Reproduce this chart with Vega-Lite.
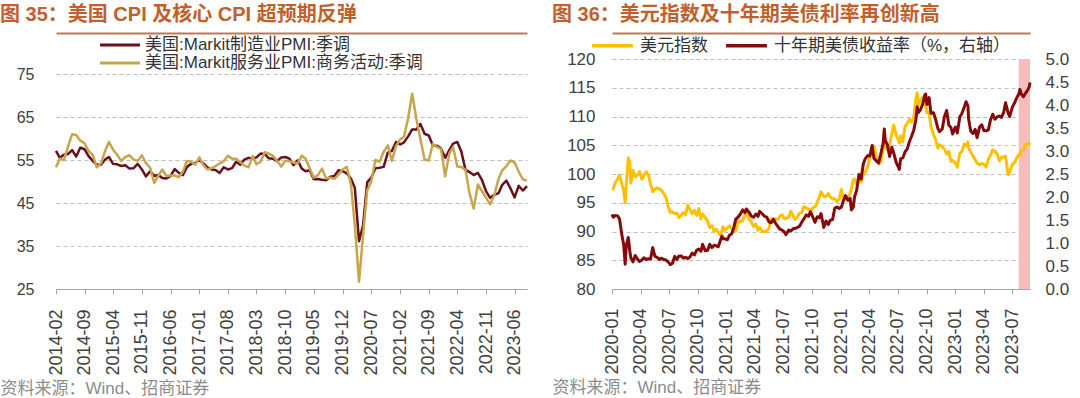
{
  "$schema": "https://vega.github.io/schema/vega-lite/v6.json",
  "padding": {"top": 5, "left": 0, "right": 0, "bottom": 0},
  "background": "white",
  "spacing": 23,
  "config": {
    "font": "Liberation Sans, Noto Sans CJK SC, sans-serif",
    "view": {"stroke": null},
    "axis": {"labelColor": "#404040", "labelFont": "Liberation Sans, Noto Sans CJK SC, sans-serif", "titleFont": "Liberation Sans, Noto Sans CJK SC, sans-serif"},
    "legend": {"labelFont": "Liberation Sans, Noto Sans CJK SC, sans-serif", "labelLimit": 500, "labelColor": "#333333"},
    "title": {"font": "Liberation Sans, Noto Sans CJK SC, sans-serif"}
  },
  "resolve": {"scale": {"color": "independent"}, "legend": {"color": "independent"}},
  "hconcat": [
    {
      "width": 471,
      "height": 230,
      "title": {"text": "图 35：美国 CPI 及核心 CPI 超预期反弹", "anchor": "start", "frame": "bounds", "offset": 8, "fontSize": 20, "fontWeight": "bold", "color": "#C0612B"},
      "data": {"values": [
        {"t":"2014-02-01","mfg":57.1,"svc":53.3},{"t":"2014-03-01","mfg":55.5,"svc":55.3},{"t":"2014-04-01","mfg":56.2,"svc":55.0},{"t":"2014-05-01","mfg":56.4,"svc":58.1},{"t":"2014-06-01","mfg":57.3,"svc":61.0},{"t":"2014-07-01","mfg":55.8,"svc":60.8},{"t":"2014-08-01","mfg":57.9,"svc":59.5},{"t":"2014-09-01","mfg":57.5,"svc":58.9},{"t":"2014-10-01","mfg":55.9,"svc":57.1},{"t":"2014-11-01","mfg":54.8,"svc":56.2},{"t":"2014-12-01","mfg":53.9,"svc":53.3},
        {"t":"2015-01-01","mfg":53.9,"svc":54.2},{"t":"2015-02-01","mfg":55.1,"svc":57.1},{"t":"2015-03-01","mfg":55.7,"svc":59.2},{"t":"2015-04-01","mfg":54.1,"svc":57.4},{"t":"2015-05-01","mfg":54.0,"svc":56.2},{"t":"2015-06-01","mfg":53.6,"svc":54.8},{"t":"2015-07-01","mfg":53.8,"svc":55.7},{"t":"2015-08-01","mfg":53.0,"svc":56.1},{"t":"2015-09-01","mfg":53.1,"svc":55.1},{"t":"2015-10-01","mfg":54.1,"svc":54.8},{"t":"2015-11-01","mfg":52.8,"svc":56.1},{"t":"2015-12-01","mfg":51.2,"svc":54.3},
        {"t":"2016-01-01","mfg":52.4,"svc":53.2},{"t":"2016-02-01","mfg":51.3,"svc":49.7},{"t":"2016-03-01","mfg":51.5,"svc":51.3},{"t":"2016-04-01","mfg":50.8,"svc":52.8},{"t":"2016-05-01","mfg":50.7,"svc":51.3},{"t":"2016-06-01","mfg":51.3,"svc":51.4},{"t":"2016-07-01","mfg":52.9,"svc":51.4},{"t":"2016-08-01","mfg":52.0,"svc":51.0},{"t":"2016-09-01","mfg":51.5,"svc":52.3},{"t":"2016-10-01","mfg":53.4,"svc":54.8},{"t":"2016-11-01","mfg":54.1,"svc":54.6},{"t":"2016-12-01","mfg":54.3,"svc":53.9},
        {"t":"2017-01-01","mfg":55.0,"svc":55.6},{"t":"2017-02-01","mfg":54.2,"svc":53.8},{"t":"2017-03-01","mfg":53.3,"svc":52.8},{"t":"2017-04-01","mfg":52.8,"svc":53.1},{"t":"2017-05-01","mfg":52.7,"svc":53.6},{"t":"2017-06-01","mfg":52.0,"svc":54.2},{"t":"2017-07-01","mfg":53.3,"svc":54.7},{"t":"2017-08-01","mfg":52.8,"svc":56.0},{"t":"2017-09-01","mfg":53.1,"svc":55.3},{"t":"2017-10-01","mfg":54.6,"svc":55.3},{"t":"2017-11-01","mfg":53.9,"svc":54.5},{"t":"2017-12-01","mfg":55.1,"svc":53.7},
        {"t":"2018-01-01","mfg":55.5,"svc":53.3},{"t":"2018-02-01","mfg":55.3,"svc":55.9},{"t":"2018-03-01","mfg":55.6,"svc":54.0},{"t":"2018-04-01","mfg":56.5,"svc":54.6},{"t":"2018-05-01","mfg":56.4,"svc":56.8},{"t":"2018-06-01","mfg":55.4,"svc":56.5},{"t":"2018-07-01","mfg":55.3,"svc":56.0},{"t":"2018-08-01","mfg":54.7,"svc":54.8},{"t":"2018-09-01","mfg":55.6,"svc":53.5},{"t":"2018-10-01","mfg":55.7,"svc":54.8},{"t":"2018-11-01","mfg":55.3,"svc":54.7},{"t":"2018-12-01","mfg":53.8,"svc":54.4},
        {"t":"2019-01-01","mfg":54.9,"svc":54.2},{"t":"2019-02-01","mfg":53.0,"svc":56.0},{"t":"2019-03-01","mfg":52.4,"svc":55.3},{"t":"2019-04-01","mfg":52.6,"svc":53.0},{"t":"2019-05-01","mfg":50.5,"svc":50.9},{"t":"2019-06-01","mfg":50.6,"svc":51.5},{"t":"2019-07-01","mfg":50.4,"svc":53.0},{"t":"2019-08-01","mfg":50.3,"svc":50.7},{"t":"2019-09-01","mfg":51.1,"svc":50.9},{"t":"2019-10-01","mfg":51.3,"svc":50.6},{"t":"2019-11-01","mfg":52.6,"svc":51.6},{"t":"2019-12-01","mfg":52.4,"svc":52.8},
        {"t":"2020-01-01","mfg":51.9,"svc":53.4},{"t":"2020-02-01","mfg":50.7,"svc":49.4},{"t":"2020-03-01","mfg":48.5,"svc":39.8},{"t":"2020-04-01","mfg":36.1,"svc":26.7},{"t":"2020-05-01","mfg":39.8,"svc":37.5},{"t":"2020-06-01","mfg":49.8,"svc":47.9},{"t":"2020-07-01","mfg":50.9,"svc":50.0},{"t":"2020-08-01","mfg":53.1,"svc":55.0},{"t":"2020-09-01","mfg":53.2,"svc":54.6},{"t":"2020-10-01","mfg":53.4,"svc":56.9},{"t":"2020-11-01","mfg":56.7,"svc":58.4},{"t":"2020-12-01","mfg":57.1,"svc":54.8},
        {"t":"2021-01-01","mfg":59.2,"svc":58.3},{"t":"2021-02-01","mfg":58.6,"svc":59.8},{"t":"2021-03-01","mfg":59.1,"svc":60.4},{"t":"2021-04-01","mfg":60.5,"svc":64.7},{"t":"2021-05-01","mfg":62.1,"svc":70.4},{"t":"2021-06-01","mfg":62.1,"svc":64.6},{"t":"2021-07-01","mfg":63.4,"svc":59.9},{"t":"2021-08-01","mfg":61.1,"svc":55.1},{"t":"2021-09-01","mfg":60.7,"svc":54.9},{"t":"2021-10-01","mfg":58.4,"svc":58.7},{"t":"2021-11-01","mfg":58.3,"svc":58.0},{"t":"2021-12-01","mfg":57.7,"svc":57.6},
        {"t":"2022-01-01","mfg":55.5,"svc":51.2},{"t":"2022-02-01","mfg":57.3,"svc":56.5},{"t":"2022-03-01","mfg":58.8,"svc":58.0},{"t":"2022-04-01","mfg":59.2,"svc":53.5},{"t":"2022-05-01","mfg":57.0,"svc":53.4},{"t":"2022-06-01","mfg":52.7,"svc":52.7},{"t":"2022-07-01","mfg":52.2,"svc":47.3},{"t":"2022-08-01","mfg":51.5,"svc":43.7},{"t":"2022-09-01","mfg":52.0,"svc":49.3},{"t":"2022-10-01","mfg":50.4,"svc":47.8},{"t":"2022-11-01","mfg":47.7,"svc":46.2},{"t":"2022-12-01","mfg":46.2,"svc":44.7},
        {"t":"2023-01-01","mfg":46.9,"svc":46.8},{"t":"2023-02-01","mfg":47.3,"svc":50.6},{"t":"2023-03-01","mfg":49.2,"svc":52.6},{"t":"2023-04-01","mfg":50.2,"svc":53.6},{"t":"2023-05-01","mfg":48.4,"svc":54.9},{"t":"2023-06-01","mfg":46.3,"svc":54.4},{"t":"2023-07-01","mfg":49.0,"svc":52.3},{"t":"2023-08-01","mfg":47.9,"svc":50.5},{"t":"2023-09-01","mfg":48.9,"svc":50.2}
      ]},
      "layer": [
        {
          "mark": {"type": "line", "strokeWidth": 2.5, "strokeJoin": "round"},
          "encoding": {
            "x": {"field": "t", "type": "temporal",
              "scale": {"domain": [{"year": 2014, "month": 2, "date": 1}, {"year": 2023, "month": 9, "date": 1}], "nice": false},
              "axis": {"orient": "bottom",
                "values": [{"year":2014,"month":2,"date":1},{"year":2014,"month":9,"date":1},{"year":2015,"month":4,"date":1},{"year":2015,"month":11,"date":1},{"year":2016,"month":6,"date":1},{"year":2017,"month":1,"date":1},{"year":2017,"month":8,"date":1},{"year":2018,"month":3,"date":1},{"year":2018,"month":10,"date":1},{"year":2019,"month":5,"date":1},{"year":2019,"month":12,"date":1},{"year":2020,"month":7,"date":1},{"year":2021,"month":2,"date":1},{"year":2021,"month":9,"date":1},{"year":2022,"month":4,"date":1},{"year":2022,"month":11,"date":1},{"year":2023,"month":6,"date":1}],
                "format": "%Y-%m", "labelAngle": -90, "labelFontSize": 18, "labelPadding": 15, "labelOverlap": false,
                "tickSize": 5, "tickColor": "#A6A6A6", "domainColor": "#A6A6A6", "grid": false,
                "title": "资料来源：Wind、招商证券", "titleX": -56, "titleAlign": "left", "titleAnchor": "start",
                "titleFontSize": 17, "titleFontWeight": "normal", "titleColor": "#8C8C8C", "titlePadding": 5}},
            "y": {"field": "mfg", "type": "quantitative",
              "scale": {"domain": [25, 78.49], "nice": false, "zero": false},
              "axis": {"values": [25, 35, 45, 55, 65, 75], "grid": true, "gridDash": [4, 3], "gridColor": "#BFBFBF",
                "domain": false, "ticks": false, "labelFontSize": 16, "labelPadding": 22, "minExtent": 56, "maxExtent": 56, "title": null}},
            "color": {"datum": "美国:Markit制造业PMI:季调", "type": "nominal",
              "scale": {"domain": ["美国:Markit制造业PMI:季调", "美国:Markit服务业PMI:商务活动:季调"], "range": ["#6A0F1C", "#C8A54C"]},
              "legend": {"orient": "none", "legendX": 54, "legendY": -24, "direction": "vertical", "title": null,
                "labelFontSize": 17, "symbolType": "M-2.35,0L2.35,0", "symbolSize": 289, "symbolStrokeWidth": 3,
                "labelOffset": 15, "rowPadding": 0, "padding": 0}}
          }
        },
        {
          "mark": {"type": "line", "strokeWidth": 2.5, "strokeJoin": "round"},
          "encoding": {
            "x": {"field": "t", "type": "temporal",
              "axis": {"orient": "top", "offset": 26, "domainColor": "#C07A52", "domainWidth": 2, "ticks": false, "labels": false, "grid": false, "title": null}},
            "y": {"field": "svc", "type": "quantitative",
              "axis": {"values": [25, 35, 45, 55, 65, 75], "grid": true, "gridDash": [4, 3], "gridColor": "#BFBFBF",
                "domain": false, "ticks": false, "labelFontSize": 16, "labelPadding": 22, "minExtent": 56, "maxExtent": 56, "title": null}},
            "color": {"datum": "美国:Markit服务业PMI:商务活动:季调", "type": "nominal"}
          }
        }
      ],
      "resolve": {"axis": {"x": "independent"}}
    },
    {
      "width": 418,
      "height": 230,
      "title": {"text": "图 36：美元指数及十年期美债利率再创新高", "anchor": "start", "frame": "bounds", "offset": 8, "fontSize": 20, "fontWeight": "bold", "color": "#C0612B"},
      "data": {"values": [
        {"d":"2020-01-27","dxy":97.5,"y10":1.62},{"d":"2020-01-31","dxy":97.4,"y10":1.56},{"d":"2020-02-07","dxy":98.6,"y10":1.60},{"d":"2020-02-14","dxy":99.1,"y10":1.59},{"d":"2020-02-20","dxy":99.8,"y10":1.52},{"d":"2020-02-28","dxy":98.1,"y10":1.15},{"d":"2020-03-04","dxy":97.2,"y10":0.98},{"d":"2020-03-09","dxy":95.0,"y10":0.54},{"d":"2020-03-13","dxy":98.7,"y10":0.96},{"d":"2020-03-19","dxy":102.8,"y10":1.12},{"d":"2020-03-24","dxy":101.9,"y10":0.82},{"d":"2020-03-27","dxy":98.4,"y10":0.68},
        {"d":"2020-04-03","dxy":100.6,"y10":0.59},{"d":"2020-04-10","dxy":99.5,"y10":0.73},{"d":"2020-04-17","dxy":99.8,"y10":0.65},{"d":"2020-04-24","dxy":100.4,"y10":0.60},{"d":"2020-05-01","dxy":99.1,"y10":0.63},{"d":"2020-05-08","dxy":99.7,"y10":0.68},{"d":"2020-05-15","dxy":100.4,"y10":0.64},{"d":"2020-05-22","dxy":99.9,"y10":0.66},{"d":"2020-05-29","dxy":98.3,"y10":0.65},{"d":"2020-06-05","dxy":96.9,"y10":0.90},{"d":"2020-06-12","dxy":97.3,"y10":0.71},{"d":"2020-06-19","dxy":97.6,"y10":0.69},{"d":"2020-06-26","dxy":97.4,"y10":0.64},
        {"d":"2020-07-02","dxy":97.2,"y10":0.67},{"d":"2020-07-10","dxy":96.6,"y10":0.64},{"d":"2020-07-17","dxy":96.0,"y10":0.63},{"d":"2020-07-24","dxy":94.4,"y10":0.59},{"d":"2020-07-31","dxy":93.3,"y10":0.53},{"d":"2020-08-07","dxy":93.4,"y10":0.56},{"d":"2020-08-14","dxy":93.1,"y10":0.71},{"d":"2020-08-21","dxy":93.2,"y10":0.64},{"d":"2020-08-28","dxy":92.4,"y10":0.72},{"d":"2020-09-04","dxy":92.8,"y10":0.72},{"d":"2020-09-11","dxy":93.3,"y10":0.67},{"d":"2020-09-18","dxy":92.9,"y10":0.69},{"d":"2020-09-25","dxy":94.6,"y10":0.66},
        {"d":"2020-10-02","dxy":93.8,"y10":0.70},{"d":"2020-10-09","dxy":93.1,"y10":0.78},{"d":"2020-10-16","dxy":93.7,"y10":0.74},{"d":"2020-10-23","dxy":92.8,"y10":0.84},{"d":"2020-10-30","dxy":94.0,"y10":0.87},{"d":"2020-11-06","dxy":92.2,"y10":0.82},{"d":"2020-11-11","dxy":93.0,"y10":0.97},{"d":"2020-11-20","dxy":92.4,"y10":0.83},{"d":"2020-11-27","dxy":91.8,"y10":0.84},{"d":"2020-12-04","dxy":90.7,"y10":0.97},{"d":"2020-12-11","dxy":91.0,"y10":0.90},{"d":"2020-12-18","dxy":90.0,"y10":0.95},{"d":"2020-12-24","dxy":90.4,"y10":0.94},{"d":"2020-12-31","dxy":89.9,"y10":0.92},
        {"d":"2021-01-06","dxy":89.4,"y10":1.04},{"d":"2021-01-12","dxy":90.1,"y10":1.15},{"d":"2021-01-15","dxy":90.8,"y10":1.09},{"d":"2021-01-22","dxy":90.2,"y10":1.09},{"d":"2021-01-29","dxy":90.6,"y10":1.07},{"d":"2021-02-05","dxy":91.0,"y10":1.17},{"d":"2021-02-12","dxy":90.5,"y10":1.20},{"d":"2021-02-19","dxy":90.4,"y10":1.34},{"d":"2021-02-25","dxy":90.1,"y10":1.52},{"d":"2021-03-05","dxy":91.9,"y10":1.57},{"d":"2021-03-12","dxy":91.7,"y10":1.63},{"d":"2021-03-19","dxy":91.9,"y10":1.72},{"d":"2021-03-26","dxy":92.8,"y10":1.66},{"d":"2021-03-31","dxy":93.2,"y10":1.74},
        {"d":"2021-04-09","dxy":92.2,"y10":1.66},{"d":"2021-04-16","dxy":91.6,"y10":1.58},{"d":"2021-04-23","dxy":90.9,"y10":1.56},{"d":"2021-04-30","dxy":91.3,"y10":1.63},{"d":"2021-05-07","dxy":90.2,"y10":1.58},{"d":"2021-05-12","dxy":90.7,"y10":1.69},{"d":"2021-05-21","dxy":90.0,"y10":1.63},{"d":"2021-05-28","dxy":90.0,"y10":1.58},{"d":"2021-06-04","dxy":90.1,"y10":1.56},{"d":"2021-06-11","dxy":90.6,"y10":1.46},{"d":"2021-06-18","dxy":92.2,"y10":1.44},{"d":"2021-06-25","dxy":91.8,"y10":1.52},
        {"d":"2021-07-02","dxy":92.2,"y10":1.43},{"d":"2021-07-09","dxy":92.1,"y10":1.36},{"d":"2021-07-16","dxy":92.7,"y10":1.30},{"d":"2021-07-23","dxy":92.9,"y10":1.28},{"d":"2021-07-30","dxy":92.2,"y10":1.24},{"d":"2021-08-04","dxy":92.3,"y10":1.18},{"d":"2021-08-13","dxy":92.5,"y10":1.28},{"d":"2021-08-20","dxy":93.5,"y10":1.26},{"d":"2021-08-27","dxy":92.7,"y10":1.31},{"d":"2021-09-03","dxy":92.1,"y10":1.32},{"d":"2021-09-10","dxy":92.6,"y10":1.34},{"d":"2021-09-17","dxy":93.2,"y10":1.37},{"d":"2021-09-24","dxy":93.3,"y10":1.46},{"d":"2021-09-30","dxy":94.3,"y10":1.52},
        {"d":"2021-10-08","dxy":94.1,"y10":1.61},{"d":"2021-10-15","dxy":93.9,"y10":1.58},{"d":"2021-10-21","dxy":93.6,"y10":1.68},{"d":"2021-10-29","dxy":94.1,"y10":1.56},{"d":"2021-11-05","dxy":94.3,"y10":1.45},{"d":"2021-11-12","dxy":95.1,"y10":1.57},{"d":"2021-11-19","dxy":96.0,"y10":1.55},{"d":"2021-11-24","dxy":96.9,"y10":1.64},{"d":"2021-12-03","dxy":96.1,"y10":1.34},{"d":"2021-12-10","dxy":96.1,"y10":1.48},{"d":"2021-12-17","dxy":96.6,"y10":1.40},{"d":"2021-12-23","dxy":96.0,"y10":1.49},{"d":"2021-12-31","dxy":95.7,"y10":1.51},
        {"d":"2022-01-07","dxy":95.7,"y10":1.76},{"d":"2022-01-14","dxy":95.2,"y10":1.78},{"d":"2022-01-21","dxy":95.6,"y10":1.75},{"d":"2022-01-28","dxy":97.3,"y10":1.78},{"d":"2022-02-04","dxy":95.5,"y10":1.93},{"d":"2022-02-10","dxy":95.5,"y10":2.03},{"d":"2022-02-18","dxy":96.0,"y10":1.93},{"d":"2022-02-25","dxy":96.6,"y10":1.97},{"d":"2022-03-01","dxy":97.4,"y10":1.72},{"d":"2022-03-07","dxy":99.0,"y10":1.78},{"d":"2022-03-11","dxy":99.1,"y10":2.00},{"d":"2022-03-18","dxy":98.2,"y10":2.15},{"d":"2022-03-25","dxy":98.8,"y10":2.49},
        {"d":"2022-04-01","dxy":98.6,"y10":2.39},{"d":"2022-04-08","dxy":99.8,"y10":2.72},{"d":"2022-04-14","dxy":100.3,"y10":2.83},{"d":"2022-04-22","dxy":101.2,"y10":2.90},{"d":"2022-04-29","dxy":103.0,"y10":2.89},{"d":"2022-05-06","dxy":103.7,"y10":3.12},{"d":"2022-05-12","dxy":104.9,"y10":2.84},{"d":"2022-05-20","dxy":103.1,"y10":2.78},{"d":"2022-05-27","dxy":101.7,"y10":2.74},{"d":"2022-06-03","dxy":102.1,"y10":2.94},{"d":"2022-06-10","dxy":104.2,"y10":3.16},{"d":"2022-06-14","dxy":105.5,"y10":3.48},{"d":"2022-06-17","dxy":104.7,"y10":3.23},{"d":"2022-06-24","dxy":104.2,"y10":3.13},
        {"d":"2022-07-01","dxy":105.1,"y10":2.88},{"d":"2022-07-08","dxy":107.0,"y10":3.08},{"d":"2022-07-14","dxy":108.5,"y10":2.96},{"d":"2022-07-22","dxy":106.7,"y10":2.75},{"d":"2022-07-29","dxy":105.9,"y10":2.65},{"d":"2022-08-01","dxy":105.4,"y10":2.60},{"d":"2022-08-05","dxy":106.6,"y10":2.83},{"d":"2022-08-12","dxy":105.6,"y10":2.85},{"d":"2022-08-19","dxy":108.2,"y10":2.98},{"d":"2022-08-26","dxy":108.8,"y10":3.04},{"d":"2022-09-02","dxy":109.5,"y10":3.20},{"d":"2022-09-09","dxy":109.0,"y10":3.32},{"d":"2022-09-16","dxy":109.8,"y10":3.45},{"d":"2022-09-23","dxy":113.2,"y10":3.69},{"d":"2022-09-27","dxy":114.1,"y10":3.96},{"d":"2022-09-30","dxy":112.1,"y10":3.83},
        {"d":"2022-10-07","dxy":112.8,"y10":3.89},{"d":"2022-10-14","dxy":113.3,"y10":4.01},{"d":"2022-10-21","dxy":112.0,"y10":4.21},{"d":"2022-10-24","dxy":111.9,"y10":4.24},{"d":"2022-10-28","dxy":110.7,"y10":4.01},{"d":"2022-11-04","dxy":110.8,"y10":4.16},{"d":"2022-11-10","dxy":108.2,"y10":3.82},{"d":"2022-11-18","dxy":106.9,"y10":3.83},{"d":"2022-11-25","dxy":106.0,"y10":3.68},{"d":"2022-12-02","dxy":104.5,"y10":3.49},{"d":"2022-12-07","dxy":105.1,"y10":3.42},{"d":"2022-12-16","dxy":104.7,"y10":3.48},{"d":"2022-12-23","dxy":104.3,"y10":3.75},{"d":"2022-12-30","dxy":103.5,"y10":3.88},
        {"d":"2023-01-06","dxy":103.9,"y10":3.56},{"d":"2023-01-13","dxy":102.2,"y10":3.51},{"d":"2023-01-18","dxy":102.4,"y10":3.37},{"d":"2023-01-27","dxy":101.9,"y10":3.52},{"d":"2023-02-02","dxy":101.2,"y10":3.39},{"d":"2023-02-10","dxy":103.6,"y10":3.74},{"d":"2023-02-17","dxy":103.9,"y10":3.82},{"d":"2023-02-24","dxy":105.2,"y10":3.95},{"d":"2023-03-02","dxy":104.9,"y10":4.07},{"d":"2023-03-08","dxy":105.6,"y10":3.98},{"d":"2023-03-10","dxy":104.6,"y10":3.70},{"d":"2023-03-17","dxy":103.8,"y10":3.43},{"d":"2023-03-24","dxy":103.1,"y10":3.38},{"d":"2023-03-31","dxy":102.5,"y10":3.47},
        {"d":"2023-04-06","dxy":101.9,"y10":3.29},{"d":"2023-04-14","dxy":101.6,"y10":3.52},{"d":"2023-04-21","dxy":101.8,"y10":3.57},{"d":"2023-04-28","dxy":101.7,"y10":3.44},{"d":"2023-05-05","dxy":101.2,"y10":3.44},{"d":"2023-05-12","dxy":102.6,"y10":3.46},{"d":"2023-05-19","dxy":103.2,"y10":3.68},{"d":"2023-05-26","dxy":104.2,"y10":3.80},{"d":"2023-06-02","dxy":104.0,"y10":3.69},{"d":"2023-06-09","dxy":103.5,"y10":3.74},{"d":"2023-06-16","dxy":102.3,"y10":3.76},{"d":"2023-06-23","dxy":102.9,"y10":3.73},{"d":"2023-06-30","dxy":103.0,"y10":3.84},
        {"d":"2023-07-06","dxy":103.1,"y10":4.05},{"d":"2023-07-14","dxy":99.9,"y10":3.83},{"d":"2023-07-19","dxy":100.3,"y10":3.75},{"d":"2023-07-28","dxy":101.7,"y10":3.96},{"d":"2023-08-04","dxy":102.0,"y10":4.05},{"d":"2023-08-11","dxy":102.8,"y10":4.16},{"d":"2023-08-18","dxy":103.4,"y10":4.25},{"d":"2023-08-21","dxy":103.3,"y10":4.34},{"d":"2023-08-25","dxy":104.1,"y10":4.24},{"d":"2023-09-01","dxy":104.2,"y10":4.18},{"d":"2023-09-08","dxy":105.1,"y10":4.26},{"d":"2023-09-15","dxy":105.3,"y10":4.33},{"d":"2023-09-20","dxy":105.2,"y10":4.40},{"d":"2023-09-22","dxy":105.4,"y10":4.49}
      ]},
      "layer": [
        {
          "data": {"values": [{"s": "2023-08-17", "e": "2023-09-22"}]},
          "mark": {"type": "rect", "color": "#F5BDBD"},
          "encoding": {
            "x": {"field": "s", "type": "temporal",
              "scale": {"domain": [{"year": 2020, "month": 1, "date": 27}, {"year": 2023, "month": 9, "date": 22}], "nice": false},
              "axis": {"orient": "top", "offset": 26, "domainColor": "#C07A52", "domainWidth": 2, "ticks": false, "labels": false, "grid": false, "title": null}},
            "x2": {"field": "e"}
          }
        },
        {
          "mark": {"type": "line", "strokeWidth": 3, "strokeJoin": "round"},
          "encoding": {
            "x": {"field": "d", "type": "temporal",
              "axis": {"orient": "bottom",
                "values": [{"year":2020,"month":1,"date":27},{"year":2020,"month":4,"date":27},{"year":2020,"month":7,"date":27},{"year":2020,"month":10,"date":27},{"year":2021,"month":1,"date":27},{"year":2021,"month":4,"date":27},{"year":2021,"month":7,"date":27},{"year":2021,"month":10,"date":27},{"year":2022,"month":1,"date":27},{"year":2022,"month":4,"date":27},{"year":2022,"month":7,"date":27},{"year":2022,"month":10,"date":27},{"year":2023,"month":1,"date":27},{"year":2023,"month":4,"date":27},{"year":2023,"month":7,"date":27}],
                "format": "%Y-%m", "labelAngle": -90, "labelFontSize": 18, "labelPadding": 14, "labelOverlap": false,
                "tickSize": 5, "tickColor": "#A6A6A6", "domainColor": "#A6A6A6", "grid": false,
                "title": "资料来源：Wind、招商证券", "titleX": -60, "titleAlign": "left", "titleAnchor": "start",
                "titleFontSize": 17, "titleFontWeight": "normal", "titleColor": "#8C8C8C", "titlePadding": 5}},
            "y": {"field": "dxy", "type": "quantitative",
              "scale": {"domain": [80, 120], "nice": false, "zero": false},
              "axis": {"orient": "left", "values": [80, 85, 90, 95, 100, 105, 110, 115, 120], "grid": true, "gridDash": [4, 3], "gridColor": "#BFBFBF",
                "domain": false, "ticks": false, "labelFontSize": 17, "labelPadding": 17, "minExtent": 60, "maxExtent": 60, "title": null}},
            "color": {"datum": "美元指数", "type": "nominal",
              "scale": {"domain": ["美元指数", "十年期美债收益率（%，右轴）"], "range": ["#FFC000", "#860A0A"]},
              "legend": {"orient": "none", "legendX": -10, "legendY": -24, "direction": "horizontal", "title": null,
                "labelFontSize": 17, "symbolType": "M-2.4,0L2.4,0", "symbolSize": 289, "symbolStrokeWidth": 3.5,
                "labelOffset": 17, "columnPadding": 11, "padding": 0}}
          }
        },
        {
          "mark": {"type": "line", "strokeWidth": 3, "strokeJoin": "round"},
          "encoding": {
            "x": {"field": "d", "type": "temporal", "axis": null},
            "y": {"field": "y10", "type": "quantitative",
              "scale": {"domain": [0, 5], "nice": false},
              "axis": {"orient": "right", "values": [0, 0.5, 1, 1.5, 2, 2.5, 3, 3.5, 4, 4.5, 5], "format": ".1f", "grid": false,
                "domain": false, "ticks": false, "labelFontSize": 17, "labelPadding": 15, "title": null}},
            "color": {"datum": "十年期美债收益率（%，右轴）", "type": "nominal"}
          }
        }
      ],
      "resolve": {"scale": {"y": "independent"}, "axis": {"x": "independent"}}
    }
  ]
}
